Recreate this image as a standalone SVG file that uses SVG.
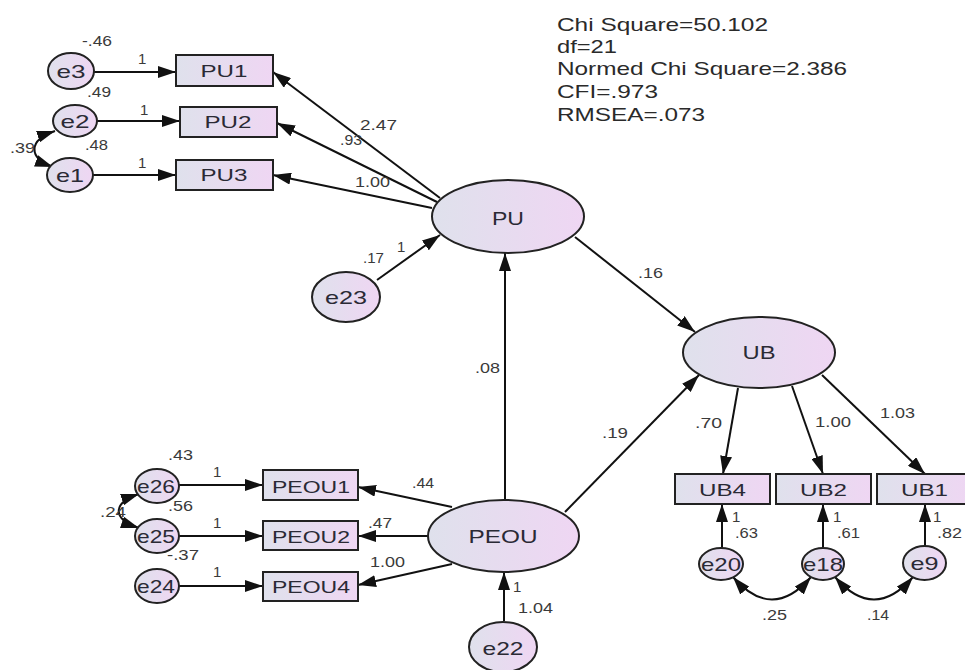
<svg xmlns="http://www.w3.org/2000/svg" width="965" height="670" viewBox="0 0 965 670">
<defs>
<linearGradient id="gf" x1="0" y1="0" x2="1" y2="0">
<stop offset="0" stop-color="#dfe1ec"/>
<stop offset="1" stop-color="#efd6f3"/>
</linearGradient>
<marker id="ah" viewBox="0 0 18 12" refX="18" refY="6" markerWidth="18" markerHeight="12" markerUnits="userSpaceOnUse" orient="auto-start-reverse">
<path d="M0,0 L18,6 L0,12 z" fill="#111"/>
</marker>
</defs>
<style>
.sh{fill:url(#gf);stroke:#222;stroke-width:2}
.nt{font-family:"Liberation Sans",Arial,sans-serif;fill:#2a2a35;text-anchor:middle}
.bt{font-size:17px}
.et{font-size:19px}
.lt{font-size:19px}
.lb{font-family:"Liberation Sans",Arial,sans-serif;font-size:15px;fill:#3a3a3a}
.fit{font-family:"Liberation Sans",Arial,sans-serif;font-size:19px;fill:#2a2a2a}
.c{fill:none;stroke:#111;stroke-width:2}
.a{marker-end:url(#ah)}
.b{marker-start:url(#ah);marker-end:url(#ah)}
</style>
<rect width="965" height="670" fill="#ffffff"/>

<g id="fit-stats">
<text class="fit" x="557" y="31" textLength="211" lengthAdjust="spacingAndGlyphs">Chi Square=50.102</text>
<text class="fit" x="557" y="53" textLength="60" lengthAdjust="spacingAndGlyphs">df=21</text>
<text class="fit" x="557" y="75" textLength="290" lengthAdjust="spacingAndGlyphs">Normed Chi Square=2.386</text>
<text class="fit" x="557" y="98" textLength="101" lengthAdjust="spacingAndGlyphs">CFI=.973</text>
<text class="fit" x="557" y="121" textLength="148" lengthAdjust="spacingAndGlyphs">RMSEA=.073</text>
</g>

<g id="connectors">
<line class="c a" x1="94" y1="72" x2="176" y2="72"/>
<line class="c a" x1="97" y1="121" x2="180" y2="121"/>
<line class="c a" x1="93" y1="175" x2="176" y2="175"/>
<line class="c a" x1="440" y1="198" x2="273" y2="72"/>
<line class="c a" x1="437" y1="202" x2="277" y2="123"/>
<line class="c a" x1="432" y1="208" x2="273" y2="175"/>
<line class="c a" x1="377" y1="280" x2="440" y2="235"/>
<line class="c a" x1="505" y1="500" x2="505" y2="253"/>
<line class="c a" x1="575" y1="237" x2="695" y2="332"/>
<line class="c a" x1="565" y1="512" x2="699" y2="375"/>
<line class="c a" x1="452" y1="507" x2="358" y2="487"/>
<line class="c a" x1="428" y1="536" x2="358" y2="536"/>
<line class="c a" x1="452" y1="564" x2="358" y2="585"/>
<line class="c a" x1="179" y1="485" x2="263" y2="485"/>
<line class="c a" x1="179" y1="536" x2="263" y2="536"/>
<line class="c a" x1="179" y1="586" x2="263" y2="586"/>
<line class="c a" x1="504" y1="621" x2="504" y2="572"/>
<line class="c a" x1="738" y1="388" x2="723" y2="474"/>
<line class="c a" x1="792" y1="386" x2="823" y2="474"/>
<line class="c a" x1="822" y1="375" x2="925" y2="474"/>
<line class="c a" x1="722" y1="549" x2="722" y2="504"/>
<line class="c a" x1="823" y1="549" x2="823" y2="504"/>
<line class="c a" x1="925" y1="547" x2="925" y2="504"/>
<path class="c b" d="M55,131 C28,140 28,158 53,167"/>
<path class="c b" d="M139,494 C112,503 112,519 139,528"/>
<path class="c b" d="M733,577 Q772,622 811,577"/>
<path class="c b" d="M835,577 Q874,622 913,577"/>
</g>

<g id="e3"><ellipse class="sh" cx="71" cy="71" rx="23" ry="18"/><text class="nt et" x="71" y="78" textLength="29" lengthAdjust="spacingAndGlyphs">e3</text></g>
<g id="e2"><ellipse class="sh" cx="75" cy="121" rx="22" ry="16"/><text class="nt et" x="75" y="128" textLength="29" lengthAdjust="spacingAndGlyphs">e2</text></g>
<g id="e1"><ellipse class="sh" cx="70" cy="175" rx="23" ry="17"/><text class="nt et" x="70" y="182" textLength="28" lengthAdjust="spacingAndGlyphs">e1</text></g>

<g id="PU1"><rect class="sh" x="176" y="55" width="97" height="31"/><text class="nt bt" x="224" y="77" textLength="47" lengthAdjust="spacingAndGlyphs">PU1</text></g>
<g id="PU2"><rect class="sh" x="180" y="107" width="97" height="30"/><text class="nt bt" x="228" y="128" textLength="47" lengthAdjust="spacingAndGlyphs">PU2</text></g>
<g id="PU3"><rect class="sh" x="176" y="160" width="97" height="30"/><text class="nt bt" x="224" y="181" textLength="47" lengthAdjust="spacingAndGlyphs">PU3</text></g>

<g id="PU"><ellipse class="sh" cx="508" cy="216.5" rx="76" ry="36.5"/><text class="nt lt" x="508" y="225" textLength="32" lengthAdjust="spacingAndGlyphs">PU</text></g>
<g id="e23"><ellipse class="sh" cx="346" cy="297" rx="34" ry="25"/><text class="nt et" x="346" y="304" textLength="42" lengthAdjust="spacingAndGlyphs">e23</text></g>

<g id="UB"><ellipse class="sh" cx="759" cy="352.5" rx="76" ry="35.5"/><text class="nt lt" x="759" y="359" textLength="33" lengthAdjust="spacingAndGlyphs">UB</text></g>

<g id="PEOU"><ellipse class="sh" cx="503.5" cy="536" rx="75.5" ry="36"/><text class="nt lt" x="503" y="543" textLength="69" lengthAdjust="spacingAndGlyphs">PEOU</text></g>
<g id="e22"><ellipse class="sh" cx="503" cy="647" rx="34" ry="25"/><text class="nt et" x="503" y="655" textLength="41" lengthAdjust="spacingAndGlyphs">e22</text></g>

<g id="PEOU1"><rect class="sh" x="263" y="470" width="95" height="30"/><text class="nt bt" x="311" y="493" textLength="78" lengthAdjust="spacingAndGlyphs">PEOU1</text></g>
<g id="PEOU2"><rect class="sh" x="263" y="521" width="95" height="29"/><text class="nt bt" x="311" y="543" textLength="78" lengthAdjust="spacingAndGlyphs">PEOU2</text></g>
<g id="PEOU4"><rect class="sh" x="263" y="572" width="95" height="29"/><text class="nt bt" x="311" y="593" textLength="78" lengthAdjust="spacingAndGlyphs">PEOU4</text></g>

<g id="e26"><ellipse class="sh" cx="157" cy="486" rx="22" ry="17"/><text class="nt et" x="156" y="493" textLength="38" lengthAdjust="spacingAndGlyphs">e26</text></g>
<g id="e25"><ellipse class="sh" cx="157" cy="536" rx="22" ry="17"/><text class="nt et" x="156" y="543" textLength="38" lengthAdjust="spacingAndGlyphs">e25</text></g>
<g id="e24"><ellipse class="sh" cx="157" cy="586" rx="22" ry="17"/><text class="nt et" x="156" y="593" textLength="38" lengthAdjust="spacingAndGlyphs">e24</text></g>

<g id="UB4"><rect class="sh" x="675" y="474" width="95" height="30"/><text class="nt bt" x="722.5" y="496" textLength="47" lengthAdjust="spacingAndGlyphs">UB4</text></g>
<g id="UB2"><rect class="sh" x="776" y="474" width="95" height="30"/><text class="nt bt" x="823.5" y="496" textLength="47" lengthAdjust="spacingAndGlyphs">UB2</text></g>
<g id="UB1"><rect class="sh" x="877" y="474" width="95" height="30"/><text class="nt bt" x="924.5" y="496" textLength="47" lengthAdjust="spacingAndGlyphs">UB1</text></g>

<g id="e20"><ellipse class="sh" cx="721" cy="564" rx="22" ry="16"/><text class="nt et" x="721" y="571" textLength="40" lengthAdjust="spacingAndGlyphs">e20</text></g>
<g id="e18"><ellipse class="sh" cx="823" cy="564" rx="21" ry="16"/><text class="nt et" x="823" y="571" textLength="40" lengthAdjust="spacingAndGlyphs">e18</text></g>
<g id="e9"><ellipse class="sh" cx="924.5" cy="563" rx="21.5" ry="17"/><text class="nt et" x="924.5" y="570" textLength="28" lengthAdjust="spacingAndGlyphs">e9</text></g>

<g id="labels">
<text class="lb" x="82" y="46" textLength="30" lengthAdjust="spacingAndGlyphs">-.46</text>
<text class="lb" x="87" y="97" textLength="24" lengthAdjust="spacingAndGlyphs">.49</text>
<text class="lb" x="85" y="150" textLength="23" lengthAdjust="spacingAndGlyphs">.48</text>
<text class="lb" x="10" y="153" textLength="25" lengthAdjust="spacingAndGlyphs">.39</text>
<text class="lb" x="138" y="64">1</text>
<text class="lb" x="140" y="115">1</text>
<text class="lb" x="138" y="168">1</text>
<text class="lb" x="360" y="130" textLength="37" lengthAdjust="spacingAndGlyphs">2.47</text>
<text class="lb" x="340" y="145" textLength="22" lengthAdjust="spacingAndGlyphs">.93</text>
<text class="lb" x="355" y="187" textLength="35" lengthAdjust="spacingAndGlyphs">1.00</text>
<text class="lb" x="363" y="263" textLength="21" lengthAdjust="spacingAndGlyphs">.17</text>
<text class="lb" x="397" y="252">1</text>
<text class="lb" x="638" y="278" textLength="25" lengthAdjust="spacingAndGlyphs">.16</text>
<text class="lb" x="475" y="373" textLength="25" lengthAdjust="spacingAndGlyphs">.08</text>
<text class="lb" x="602" y="438" textLength="26" lengthAdjust="spacingAndGlyphs">.19</text>
<text class="lb" x="695" y="428" textLength="27" lengthAdjust="spacingAndGlyphs">.70</text>
<text class="lb" x="815" y="427" textLength="36" lengthAdjust="spacingAndGlyphs">1.00</text>
<text class="lb" x="880" y="418" textLength="35" lengthAdjust="spacingAndGlyphs">1.03</text>
<text class="lb" x="732" y="522">1</text>
<text class="lb" x="735" y="538" textLength="23" lengthAdjust="spacingAndGlyphs">.63</text>
<text class="lb" x="833" y="522">1</text>
<text class="lb" x="837" y="538" textLength="23" lengthAdjust="spacingAndGlyphs">.61</text>
<text class="lb" x="933" y="522">1</text>
<text class="lb" x="937" y="538" textLength="25" lengthAdjust="spacingAndGlyphs">.82</text>
<text class="lb" x="762" y="620" textLength="25" lengthAdjust="spacingAndGlyphs">.25</text>
<text class="lb" x="867" y="620" textLength="22" lengthAdjust="spacingAndGlyphs">.14</text>
<text class="lb" x="168" y="460" textLength="25" lengthAdjust="spacingAndGlyphs">.43</text>
<text class="lb" x="168" y="511" textLength="25" lengthAdjust="spacingAndGlyphs">.56</text>
<text class="lb" x="167" y="560" textLength="32" lengthAdjust="spacingAndGlyphs">-.37</text>
<text class="lb" x="100" y="517" textLength="26" lengthAdjust="spacingAndGlyphs">.24</text>
<text class="lb" x="213" y="477">1</text>
<text class="lb" x="213" y="528">1</text>
<text class="lb" x="213" y="577">1</text>
<text class="lb" x="412" y="488" textLength="22" lengthAdjust="spacingAndGlyphs">.44</text>
<text class="lb" x="368" y="528" textLength="24" lengthAdjust="spacingAndGlyphs">.47</text>
<text class="lb" x="370" y="567" textLength="35" lengthAdjust="spacingAndGlyphs">1.00</text>
<text class="lb" x="513" y="592">1</text>
<text class="lb" x="518" y="613" textLength="35" lengthAdjust="spacingAndGlyphs">1.04</text>
</g>
</svg>
